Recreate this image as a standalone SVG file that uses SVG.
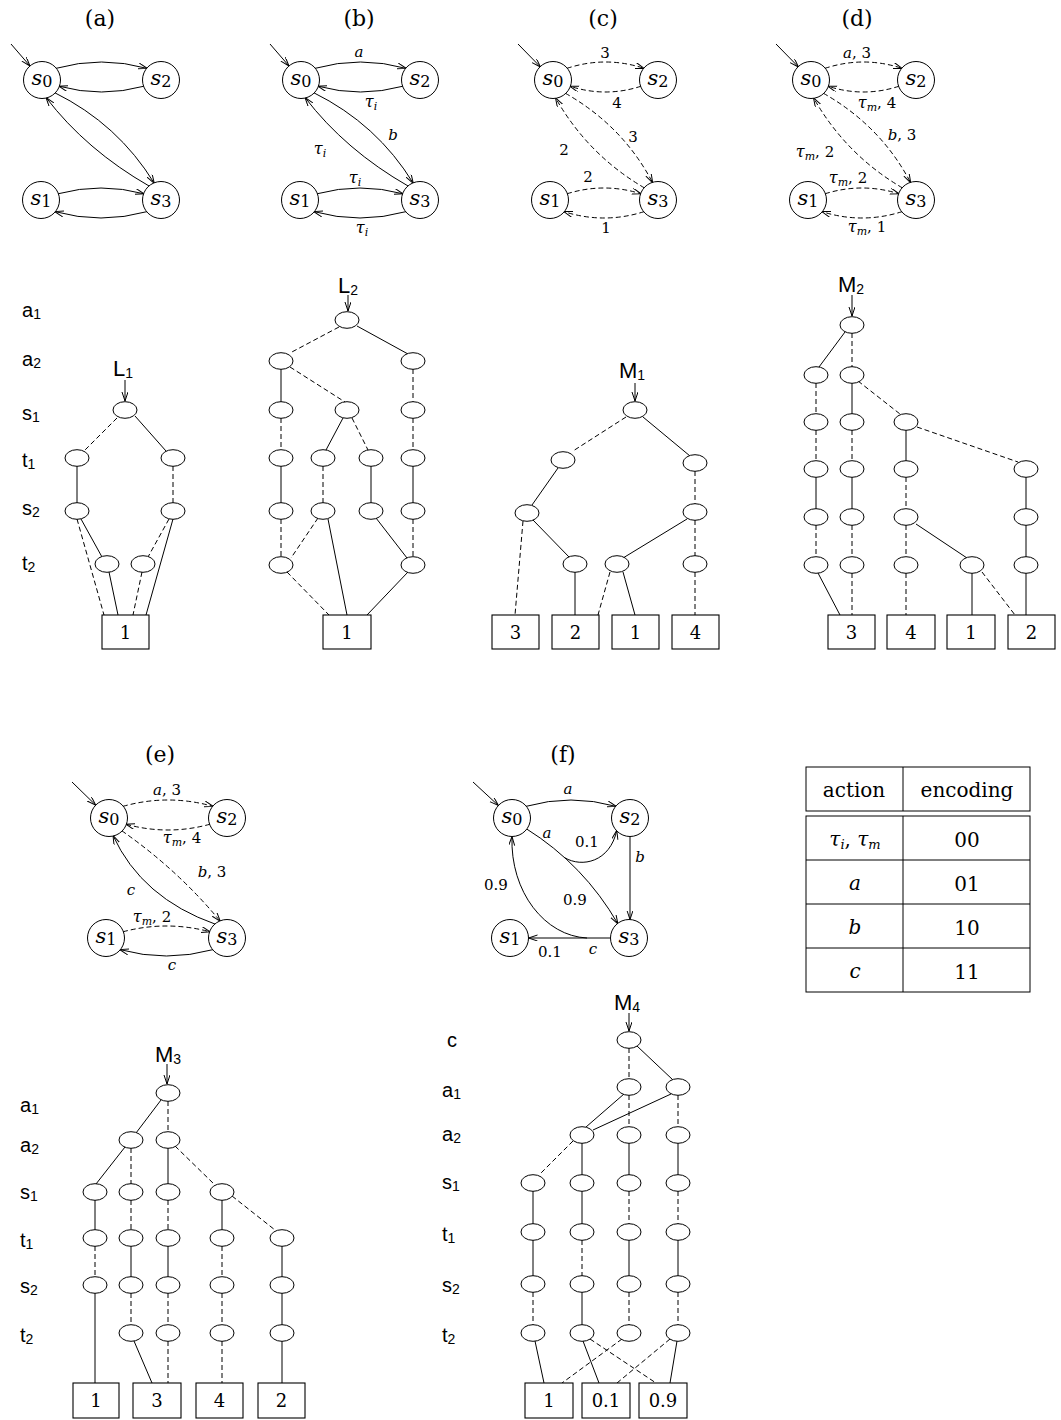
<svg xmlns="http://www.w3.org/2000/svg" width="1061" height="1420" viewBox="0 0 1061 1420">
<defs>
<marker id="ah" markerWidth="11" markerHeight="8" refX="9" refY="3" orient="auto" markerUnits="userSpaceOnUse"><path d="M0,0 L9,3 L0,6" fill="none" stroke="#000" stroke-width="1" stroke-dasharray="none"/></marker>
<style>
.n ellipse{fill:#fff;stroke:#000;stroke-width:1}
.st circle{fill:#fff;stroke:#000;stroke-width:1}
.t rect{fill:#fff;stroke:#000;stroke-width:1.1}
.s{stroke:#000;stroke-width:1;fill:none}
.d{stroke:#000;stroke-width:1;fill:none;stroke-dasharray:5 3}
.ar{marker-end:url(#ah)}
.ti{font-family:"DejaVu Serif",serif;font-size:22px;text-anchor:middle}
.sl{font-family:"DejaVu Serif",serif;font-style:italic;font-size:21px;text-anchor:middle}
.sl .sb{font-style:normal;font-size:16px}
.el{font-family:"DejaVu Serif",serif;font-size:15px;text-anchor:middle}
.mi{font-style:italic}
.sb{font-size:11px}
.vl{font-family:"Liberation Sans",Arial,sans-serif;font-size:20px}
.vl .sb,.rl .sb{font-size:14px}
.rl{font-family:"Liberation Sans",Arial,sans-serif;font-size:22px;text-anchor:middle}
.tn{font-family:"DejaVu Serif",serif;font-size:18px;text-anchor:middle}
.tb{font-family:"DejaVu Serif",serif;font-size:20px;text-anchor:middle}
.tb .sb{font-size:13px}
.tbl{fill:none;stroke:#000;stroke-width:1}
</style>
</defs>
<rect width="1061" height="1420" fill="#fff"/>

<g id="titles">
<text class="ti" x="100" y="26">(a)</text>
<text class="ti" x="359" y="26">(b)</text>
<text class="ti" x="603" y="26">(c)</text>
<text class="ti" x="857" y="26">(d)</text>
<text class="ti" x="160" y="762">(e)</text>
<text class="ti" x="563" y="762">(f)</text>
</g>

<g id="connectors">
<g id="edges-a">
<path class="s ar" d="M11,44 L30,66"/>
<path class="s ar" d="M55.8,68.4 Q101.5,55.6 147.2,68.4"/>
<path class="s ar" d="M144.1,86.2 Q101.5,97.8 58.9,86.2"/>
<path class="s ar" d="M57.9,193.8 Q101,182.2 144.1,193.8"/>
<path class="s ar" d="M147.2,211.6 Q101,224.4 54.8,211.6"/>
<path class="s ar" d="M54.7,92.7 Q118,124 154.3,183.3"/>
<path class="s ar" d="M149.4,186.2 Q86.3,150.1 46,97.5"/>
</g>
<g id="edges-b" transform="translate(259,0)">
<path class="s ar" d="M11,44 L30,66"/>
<path class="s ar" d="M55.8,68.4 Q101.5,55.6 147.2,68.4"/>
<path class="s ar" d="M144.1,86.2 Q101.5,97.8 58.9,86.2"/>
<path class="s ar" d="M57.9,193.8 Q101,182.2 144.1,193.8"/>
<path class="s ar" d="M147.2,211.6 Q101,224.4 54.8,211.6"/>
<path class="s ar" d="M54.7,92.7 Q118,124 154.3,183.3"/>
<path class="s ar" d="M149.4,186.2 Q86.3,150.1 46,97.5"/>
</g>
<g id="edges-c">
<path class="s ar" d="M518,44 L540.5,67"/>
<path class="d ar" d="M566.8,68.4 Q605.5,55.6 644.2,68.4"/>
<path class="d ar" d="M641.1,86.2 Q605.5,97.8 569.9,86.2"/>
<path class="d ar" d="M566.9,193.8 Q604,182.2 641.1,193.8"/>
<path class="d ar" d="M644.2,211.6 Q604,224.4 563.8,211.6"/>
<path class="d ar" d="M565.3,93.2 Q623,126 652.7,182.8"/>
<path class="d ar" d="M644.6,188 Q588,155 555.5,97.8"/>
</g>
<g id="edges-d" transform="translate(258,0)">
<path class="s ar" d="M518,44 L540.5,67"/>
<path class="d ar" d="M566.8,68.4 Q605.5,55.6 644.2,68.4"/>
<path class="d ar" d="M641.1,86.2 Q605.5,97.8 569.9,86.2"/>
<path class="d ar" d="M566.9,193.8 Q604,182.2 641.1,193.8"/>
<path class="d ar" d="M644.2,211.6 Q604,224.4 563.8,211.6"/>
<path class="d ar" d="M565.3,93.2 Q623,126 652.7,182.8"/>
<path class="d ar" d="M644.6,188 Q588,155 555.5,97.8"/>
</g>
<g id="edges-e">
<path class="s ar" d="M72,782 L95.7,805.1"/>
<path class="d ar" d="M122.8,806.4 Q168,793.6 213.2,806.4"/>
<path class="d ar" d="M210.1,824.2 Q168,835.8 125.9,824.2"/>
<path class="d ar" d="M122.9,931.8 Q166.5,920.2 210.1,931.8"/>
<path class="s ar" d="M213.2,949.6 Q166.5,962.4 119.8,949.6"/>
<path class="d ar" d="M121.7,830.7 Q178,870 220.3,921.3"/>
<path class="s ar" d="M215.4,924.2 Q141.8,898.2 113,835.5"/>
</g>
<g id="edges-f">
<path class="s ar" d="M473,782 L498.4,805.5"/>
<path class="s ar" d="M525.8,806.4 Q571,793.6 616.2,806.4"/>
<path class="s ar" d="M526.4,828.8 Q583.7,864.7 617.9,923.8"/>
<path class="s ar" d="M564.7,857.7 C582,868 610,862 616.8,830.3"/>
<path class="s ar" d="M630,836.5 L630,919.5"/>
<path class="s ar" d="M610.5,938 L528.5,938"/>
<path class="s ar" d="M587,938 C545,936 510,892 512,836.5"/>
</g>

<g id="edges-L1">
<path class="s ar" d="M125,380 L125,401"/>
<path class="d" d="M117,418 L85,450"/>
<path class="s" d="M135,416 L166,451"/>
<path class="s" d="M77,466 L77,503"/>
<path class="d" d="M173,466 L173,503"/>
<path class="d" d="M77,519 L104,615"/>
<path class="s" d="M81,519 L102,557"/>
<path class="s" d="M109,572 L118,615"/>
<path class="d" d="M142,572 L133,615"/>
<path class="d" d="M169,519 L148,557"/>
<path class="s" d="M173,519 L146,615"/>
</g>
<g id="edges-L2">
<path class="s ar" d="M348,295 L348,311"/>
<path class="d" d="M339,327 L290,353"/>
<path class="s" d="M357,326 L408,354"/>
<path class="s" d="M281,369 L281,402"/>
<path class="d" d="M290,367 L345,402"/>
<path class="d" d="M413,369 L413,402"/>
<path class="d" d="M281,418 L281,450"/>
<path class="s" d="M343,418 L326,450"/>
<path class="d" d="M352,418 L368,450"/>
<path class="d" d="M413,418 L413,450"/>
<path class="s" d="M281,466 L281,503"/>
<path class="d" d="M323,466 L323,503"/>
<path class="s" d="M371,466 L371,503"/>
<path class="s" d="M413,466 L413,503"/>
<path class="d" d="M281,519 L281,557"/>
<path class="d" d="M318,518 L291,558"/>
<path class="s" d="M328,519 L347,615"/>
<path class="s" d="M376,518 L407,558"/>
<path class="d" d="M413,519 L413,557"/>
<path class="d" d="M287,572 L329,615"/>
<path class="s" d="M408,572 L367,615"/>
</g>
<g id="edges-M1">
<path class="s ar" d="M635,383 L635,401"/>
<path class="d" d="M626,417 L573,451"/>
<path class="s" d="M643,417 L690,456"/>
<path class="s" d="M558,468 L532,505"/>
<path class="d" d="M695,471 L695,504"/>
<path class="d" d="M523,521 L515,615"/>
<path class="s" d="M533,520 L570,558"/>
<path class="s" d="M687,519 L623,558"/>
<path class="d" d="M695,520 L695,556"/>
<path class="s" d="M575,572 L575,615"/>
<path class="d" d="M610,572 L598,615"/>
<path class="s" d="M623,572 L635,615"/>
<path class="d" d="M695,572 L695,615"/>
</g>
<g id="edges-M2">
<path class="s ar" d="M852,295 L852,316"/>
<path class="s" d="M845,332 L819,367"/>
<path class="d" d="M852,333 L852,367"/>
<path class="d" d="M816,383 L816,414"/>
<path class="s" d="M852,383 L852,414"/>
<path class="d" d="M858,381 L900,414"/>
<path class="d" d="M816,430 L816,461"/>
<path class="d" d="M852,430 L852,461"/>
<path class="s" d="M906,430 L906,461"/>
<path class="d" d="M917,427 L1018,462"/>
<path class="s" d="M816,477 L816,509"/>
<path class="s" d="M852,477 L852,509"/>
<path class="d" d="M906,477 L906,509"/>
<path class="s" d="M1026,477 L1026,509"/>
<path class="d" d="M816,525 L816,557"/>
<path class="d" d="M852,525 L852,557"/>
<path class="d" d="M906,525 L906,557"/>
<path class="s" d="M916,524 L967,558"/>
<path class="s" d="M1026,525 L1026,557"/>
<path class="s" d="M818,573 L840,615"/>
<path class="d" d="M852,573 L852,615"/>
<path class="d" d="M906,573 L906,615"/>
<path class="s" d="M972,573 L972,615"/>
<path class="d" d="M982,572 L1015,615"/>
<path class="s" d="M1026,573 L1026,615"/>
</g>
<g id="edges-M3">
<path class="s ar" d="M167,1064 L167,1084"/>
<path class="s" d="M161,1100 L136,1133"/>
<path class="d" d="M168,1101 L168,1132"/>
<path class="s" d="M125,1147 L96,1184"/>
<path class="d" d="M131,1148 L131,1184"/>
<path class="s" d="M168,1148 L168,1184"/>
<path class="d" d="M175,1146 L215,1185"/>
<path class="s" d="M95,1200 L95,1230"/>
<path class="d" d="M131,1200 L131,1230"/>
<path class="d" d="M168,1200 L168,1230"/>
<path class="s" d="M222,1200 L222,1230"/>
<path class="d" d="M232,1196 L275,1230"/>
<path class="d" d="M95,1246 L95,1277"/>
<path class="s" d="M131,1246 L131,1277"/>
<path class="s" d="M168,1246 L168,1277"/>
<path class="d" d="M222,1246 L222,1277"/>
<path class="s" d="M282,1246 L282,1277"/>
<path class="s" d="M95,1293 L95,1383"/>
<path class="d" d="M131,1293 L131,1325"/>
<path class="d" d="M168,1293 L168,1325"/>
<path class="d" d="M222,1293 L222,1325"/>
<path class="s" d="M282,1293 L282,1325"/>
<path class="s" d="M134,1341 L152,1383"/>
<path class="d" d="M168,1341 L168,1383"/>
<path class="d" d="M222,1341 L222,1383"/>
<path class="s" d="M282,1341 L282,1383"/>
</g>
<g id="edges-M4">
<path class="s ar" d="M629,1013 L629,1031"/>
<path class="d" d="M629,1048 L629,1079"/>
<path class="s" d="M637,1046 L673,1080"/>
<path class="s" d="M624,1094 L586,1127"/>
<path class="s" d="M671,1094 L593,1130"/>
<path class="d" d="M629,1095 L629,1127"/>
<path class="d" d="M678,1095 L678,1127"/>
<path class="d" d="M573,1141 L540,1174"/>
<path class="s" d="M582,1143 L582,1175"/>
<path class="s" d="M629,1143 L629,1175"/>
<path class="s" d="M678,1143 L678,1175"/>
<path class="s" d="M533,1191 L533,1224"/>
<path class="s" d="M582,1191 L582,1224"/>
<path class="d" d="M629,1191 L629,1224"/>
<path class="d" d="M678,1191 L678,1224"/>
<path class="s" d="M533,1240 L533,1276"/>
<path class="d" d="M582,1240 L582,1276"/>
<path class="s" d="M629,1240 L629,1276"/>
<path class="s" d="M678,1240 L678,1276"/>
<path class="d" d="M533,1292 L533,1325"/>
<path class="s" d="M582,1292 L582,1325"/>
<path class="d" d="M629,1292 L629,1325"/>
<path class="d" d="M678,1292 L678,1325"/>
<path class="s" d="M535,1341 L544,1383"/>
<path class="s" d="M583,1341 L599,1383"/>
<path class="d" d="M590,1339 L656,1383"/>
<path class="d" d="M622,1339 L562,1383"/>
<path class="d" d="M670,1339 L617,1383"/>
<path class="s" d="M677,1341 L670,1383"/>
</g>
</g>

<g id="states" class="st">
<g id="a-s0"><circle cx="42" cy="80" r="18.5"/><text class="sl" x="42" y="85">s<tspan class="sb" dy="2">0</tspan></text></g>
<g id="a-s2"><circle cx="161" cy="80" r="18.5"/><text class="sl" x="161" y="85">s<tspan class="sb" dy="2">2</tspan></text></g>
<g id="a-s1"><circle cx="41" cy="200" r="18.5"/><text class="sl" x="41" y="205">s<tspan class="sb" dy="2">1</tspan></text></g>
<g id="a-s3"><circle cx="161" cy="200" r="18.5"/><text class="sl" x="161" y="205">s<tspan class="sb" dy="2">3</tspan></text></g>

<g id="b-s0"><circle cx="301" cy="80" r="18.5"/><text class="sl" x="301" y="85">s<tspan class="sb" dy="2">0</tspan></text></g>
<g id="b-s2"><circle cx="420" cy="80" r="18.5"/><text class="sl" x="420" y="85">s<tspan class="sb" dy="2">2</tspan></text></g>
<g id="b-s1"><circle cx="300" cy="200" r="18.5"/><text class="sl" x="300" y="205">s<tspan class="sb" dy="2">1</tspan></text></g>
<g id="b-s3"><circle cx="420" cy="200" r="18.5"/><text class="sl" x="420" y="205">s<tspan class="sb" dy="2">3</tspan></text></g>

<g id="c-s0"><circle cx="553" cy="80" r="18.5"/><text class="sl" x="553" y="85">s<tspan class="sb" dy="2">0</tspan></text></g>
<g id="c-s2"><circle cx="658" cy="80" r="18.5"/><text class="sl" x="658" y="85">s<tspan class="sb" dy="2">2</tspan></text></g>
<g id="c-s1"><circle cx="550" cy="200" r="18.5"/><text class="sl" x="550" y="205">s<tspan class="sb" dy="2">1</tspan></text></g>
<g id="c-s3"><circle cx="658" cy="200" r="18.5"/><text class="sl" x="658" y="205">s<tspan class="sb" dy="2">3</tspan></text></g>

<g id="d-s0"><circle cx="811" cy="80" r="18.5"/><text class="sl" x="811" y="85">s<tspan class="sb" dy="2">0</tspan></text></g>
<g id="d-s2"><circle cx="916" cy="80" r="18.5"/><text class="sl" x="916" y="85">s<tspan class="sb" dy="2">2</tspan></text></g>
<g id="d-s1"><circle cx="808" cy="200" r="18.5"/><text class="sl" x="808" y="205">s<tspan class="sb" dy="2">1</tspan></text></g>
<g id="d-s3"><circle cx="916" cy="200" r="18.5"/><text class="sl" x="916" y="205">s<tspan class="sb" dy="2">3</tspan></text></g>

<g id="e-s0"><circle cx="109" cy="818" r="18.5"/><text class="sl" x="109" y="823">s<tspan class="sb" dy="2">0</tspan></text></g>
<g id="e-s2"><circle cx="227" cy="818" r="18.5"/><text class="sl" x="227" y="823">s<tspan class="sb" dy="2">2</tspan></text></g>
<g id="e-s1"><circle cx="106" cy="938" r="18.5"/><text class="sl" x="106" y="943">s<tspan class="sb" dy="2">1</tspan></text></g>
<g id="e-s3"><circle cx="227" cy="938" r="18.5"/><text class="sl" x="227" y="943">s<tspan class="sb" dy="2">3</tspan></text></g>

<g id="f-s0"><circle cx="512" cy="818" r="18.5"/><text class="sl" x="512" y="823">s<tspan class="sb" dy="2">0</tspan></text></g>
<g id="f-s2"><circle cx="630" cy="818" r="18.5"/><text class="sl" x="630" y="823">s<tspan class="sb" dy="2">2</tspan></text></g>
<g id="f-s1"><circle cx="510" cy="938" r="18.5"/><text class="sl" x="510" y="943">s<tspan class="sb" dy="2">1</tspan></text></g>
<g id="f-s3"><circle cx="629" cy="938" r="18.5"/><text class="sl" x="629" y="943">s<tspan class="sb" dy="2">3</tspan></text></g>
</g>

<g id="edge-labels">
<text class="el mi" x="359" y="57">a</text>
<text class="el" x="371" y="107"><tspan class="mi" font-size="16">τ</tspan><tspan class="mi sb" dy="3">i</tspan></text>
<text class="el mi" x="393" y="140">b</text>
<text class="el" x="320" y="154"><tspan class="mi" font-size="16">τ</tspan><tspan class="mi sb" dy="3">i</tspan></text>
<text class="el" x="355" y="183"><tspan class="mi" font-size="16">τ</tspan><tspan class="mi sb" dy="3">i</tspan></text>
<text class="el" x="362" y="233"><tspan class="mi" font-size="16">τ</tspan><tspan class="mi sb" dy="3">i</tspan></text>

<text class="el" x="605" y="58">3</text>
<text class="el" x="617" y="108">4</text>
<text class="el" x="633" y="142">3</text>
<text class="el" x="564" y="155">2</text>
<text class="el" x="588" y="182">2</text>
<text class="el" x="606" y="233">1</text>

<text class="el" x="857" y="58"><tspan class="mi">a</tspan>, 3</text>
<text class="el" x="877" y="108"><tspan class="mi" font-size="16">τ</tspan><tspan class="mi sb" dy="3">m</tspan><tspan dy="-3">, 4</tspan></text>
<text class="el" x="902" y="140"><tspan class="mi">b</tspan>, 3</text>
<text class="el" x="815" y="157"><tspan class="mi" font-size="16">τ</tspan><tspan class="mi sb" dy="3">m</tspan><tspan dy="-3">, 2</tspan></text>
<text class="el" x="848" y="183"><tspan class="mi" font-size="16">τ</tspan><tspan class="mi sb" dy="3">m</tspan><tspan dy="-3">, 2</tspan></text>
<text class="el" x="867" y="232"><tspan class="mi" font-size="16">τ</tspan><tspan class="mi sb" dy="3">m</tspan><tspan dy="-3">, 1</tspan></text>

<text class="el" x="167" y="795"><tspan class="mi">a</tspan>, 3</text>
<text class="el" x="182" y="843"><tspan class="mi" font-size="16">τ</tspan><tspan class="mi sb" dy="3">m</tspan><tspan dy="-3">, 4</tspan></text>
<text class="el" x="212" y="877"><tspan class="mi">b</tspan>, 3</text>
<text class="el mi" x="131" y="895">c</text>
<text class="el" x="152" y="922"><tspan class="mi" font-size="16">τ</tspan><tspan class="mi sb" dy="3">m</tspan><tspan dy="-3">, 2</tspan></text>
<text class="el mi" x="172" y="970">c</text>

<text class="el mi" x="568" y="794">a</text>
<text class="el mi" x="547" y="838">a</text>
<text class="el" x="587" y="847">0.1</text>
<text class="el mi" x="640" y="862">b</text>
<text class="el" x="575" y="905">0.9</text>
<text class="el" x="496" y="890">0.9</text>
<text class="el" x="550" y="957">0.1</text>
<text class="el mi" x="593" y="954">c</text>
</g>

<g id="var-labels" class="vl">
<text x="22" y="317">a<tspan class="sb" dy="2">1</tspan></text>
<text x="22" y="366">a<tspan class="sb" dy="2">2</tspan></text>
<text x="22" y="420">s<tspan class="sb" dy="2">1</tspan></text>
<text x="22" y="467">t<tspan class="sb" dy="2">1</tspan></text>
<text x="22" y="515">s<tspan class="sb" dy="2">2</tspan></text>
<text x="22" y="570">t<tspan class="sb" dy="2">2</tspan></text>

<text x="20" y="1112">a<tspan class="sb" dy="2">1</tspan></text>
<text x="20" y="1152">a<tspan class="sb" dy="2">2</tspan></text>
<text x="20" y="1199">s<tspan class="sb" dy="2">1</tspan></text>
<text x="20" y="1247">t<tspan class="sb" dy="2">1</tspan></text>
<text x="20" y="1293">s<tspan class="sb" dy="2">2</tspan></text>
<text x="20" y="1342">t<tspan class="sb" dy="2">2</tspan></text>

<text x="447" y="1047">c</text>
<text x="442" y="1097">a<tspan class="sb" dy="2">1</tspan></text>
<text x="442" y="1141">a<tspan class="sb" dy="2">2</tspan></text>
<text x="442" y="1189">s<tspan class="sb" dy="2">1</tspan></text>
<text x="442" y="1241">t<tspan class="sb" dy="2">1</tspan></text>
<text x="442" y="1292">s<tspan class="sb" dy="2">2</tspan></text>
<text x="442" y="1342">t<tspan class="sb" dy="2">2</tspan></text>
</g>

<g id="root-labels" class="rl">
<text x="123" y="376">L<tspan class="sb" dy="2">1</tspan></text>
<text x="348" y="293">L<tspan class="sb" dy="2">2</tspan></text>
<text x="632" y="378">M<tspan class="sb" dy="2">1</tspan></text>
<text x="851" y="292">M<tspan class="sb" dy="2">2</tspan></text>
<text x="168" y="1062">M<tspan class="sb" dy="2">3</tspan></text>
<text x="627" y="1010">M<tspan class="sb" dy="2">4</tspan></text>
</g>

<g id="bdd-L1" class="n">
<g id="L1-n1"><ellipse cx="125" cy="410" rx="12" ry="8.3"/></g>
<g id="L1-n2"><ellipse cx="77" cy="458" rx="12" ry="8.3"/></g>
<g id="L1-n3"><ellipse cx="173" cy="458" rx="12" ry="8.3"/></g>
<g id="L1-n4"><ellipse cx="77" cy="511" rx="12" ry="8.3"/></g>
<g id="L1-n5"><ellipse cx="173" cy="511" rx="12" ry="8.3"/></g>
<g id="L1-n6"><ellipse cx="107" cy="564" rx="12" ry="8.3"/></g>
<g id="L1-n7"><ellipse cx="143" cy="564" rx="12" ry="8.3"/></g>
</g>
<g id="bdd-L2" class="n">
<g id="L2-n1"><ellipse cx="347" cy="320" rx="12" ry="8.3"/></g>
<g id="L2-n2"><ellipse cx="281" cy="361" rx="12" ry="8.3"/></g>
<g id="L2-n3"><ellipse cx="413" cy="361" rx="12" ry="8.3"/></g>
<g id="L2-n4"><ellipse cx="281" cy="410" rx="12" ry="8.3"/></g>
<g id="L2-n5"><ellipse cx="347" cy="410" rx="12" ry="8.3"/></g>
<g id="L2-n6"><ellipse cx="413" cy="410" rx="12" ry="8.3"/></g>
<g id="L2-n7"><ellipse cx="281" cy="458" rx="12" ry="8.3"/></g>
<g id="L2-n8"><ellipse cx="323" cy="458" rx="12" ry="8.3"/></g>
<g id="L2-n9"><ellipse cx="371" cy="458" rx="12" ry="8.3"/></g>
<g id="L2-n10"><ellipse cx="413" cy="458" rx="12" ry="8.3"/></g>
<g id="L2-n11"><ellipse cx="281" cy="511" rx="12" ry="8.3"/></g>
<g id="L2-n12"><ellipse cx="323" cy="511" rx="12" ry="8.3"/></g>
<g id="L2-n13"><ellipse cx="371" cy="511" rx="12" ry="8.3"/></g>
<g id="L2-n14"><ellipse cx="413" cy="511" rx="12" ry="8.3"/></g>
<g id="L2-n15"><ellipse cx="281" cy="565" rx="12" ry="8.3"/></g>
<g id="L2-n16"><ellipse cx="413" cy="565" rx="12" ry="8.3"/></g>
</g>
<g id="bdd-M1" class="n">
<g id="M1-n1"><ellipse cx="635" cy="410" rx="12" ry="8.3"/></g>
<g id="M1-n2"><ellipse cx="563" cy="460" rx="12" ry="8.3"/></g>
<g id="M1-n3"><ellipse cx="695" cy="463" rx="12" ry="8.3"/></g>
<g id="M1-n4"><ellipse cx="527" cy="513" rx="12" ry="8.3"/></g>
<g id="M1-n5"><ellipse cx="695" cy="512" rx="12" ry="8.3"/></g>
<g id="M1-n6"><ellipse cx="575" cy="564" rx="12" ry="8.3"/></g>
<g id="M1-n7"><ellipse cx="617" cy="564" rx="12" ry="8.3"/></g>
<g id="M1-n8"><ellipse cx="695" cy="564" rx="12" ry="8.3"/></g>
</g>
<g id="bdd-M2" class="n">
<g id="M2-n1"><ellipse cx="852" cy="325" rx="12" ry="8.3"/></g>
<g id="M2-n2"><ellipse cx="816" cy="375" rx="12" ry="8.3"/></g>
<g id="M2-n3"><ellipse cx="852" cy="375" rx="12" ry="8.3"/></g>
<g id="M2-n4"><ellipse cx="816" cy="422" rx="12" ry="8.3"/></g>
<g id="M2-n5"><ellipse cx="852" cy="422" rx="12" ry="8.3"/></g>
<g id="M2-n6"><ellipse cx="906" cy="422" rx="12" ry="8.3"/></g>
<g id="M2-n7"><ellipse cx="816" cy="469" rx="12" ry="8.3"/></g>
<g id="M2-n8"><ellipse cx="852" cy="469" rx="12" ry="8.3"/></g>
<g id="M2-n9"><ellipse cx="906" cy="469" rx="12" ry="8.3"/></g>
<g id="M2-n10"><ellipse cx="1026" cy="469" rx="12" ry="8.3"/></g>
<g id="M2-n11"><ellipse cx="816" cy="517" rx="12" ry="8.3"/></g>
<g id="M2-n12"><ellipse cx="852" cy="517" rx="12" ry="8.3"/></g>
<g id="M2-n13"><ellipse cx="906" cy="517" rx="12" ry="8.3"/></g>
<g id="M2-n14"><ellipse cx="1026" cy="517" rx="12" ry="8.3"/></g>
<g id="M2-n15"><ellipse cx="816" cy="565" rx="12" ry="8.3"/></g>
<g id="M2-n16"><ellipse cx="852" cy="565" rx="12" ry="8.3"/></g>
<g id="M2-n17"><ellipse cx="906" cy="565" rx="12" ry="8.3"/></g>
<g id="M2-n18"><ellipse cx="972" cy="565" rx="12" ry="8.3"/></g>
<g id="M2-n19"><ellipse cx="1026" cy="565" rx="12" ry="8.3"/></g>
</g>
<g id="bdd-M3" class="n">
<g id="M3-n1"><ellipse cx="168" cy="1093" rx="12" ry="8.3"/></g>
<g id="M3-n2"><ellipse cx="131" cy="1140" rx="12" ry="8.3"/></g>
<g id="M3-n3"><ellipse cx="168" cy="1140" rx="12" ry="8.3"/></g>
<g id="M3-n4"><ellipse cx="95" cy="1192" rx="12" ry="8.3"/></g>
<g id="M3-n5"><ellipse cx="131" cy="1192" rx="12" ry="8.3"/></g>
<g id="M3-n6"><ellipse cx="168" cy="1192" rx="12" ry="8.3"/></g>
<g id="M3-n7"><ellipse cx="222" cy="1192" rx="12" ry="8.3"/></g>
<g id="M3-n8"><ellipse cx="95" cy="1238" rx="12" ry="8.3"/></g>
<g id="M3-n9"><ellipse cx="131" cy="1238" rx="12" ry="8.3"/></g>
<g id="M3-n10"><ellipse cx="168" cy="1238" rx="12" ry="8.3"/></g>
<g id="M3-n11"><ellipse cx="222" cy="1238" rx="12" ry="8.3"/></g>
<g id="M3-n12"><ellipse cx="282" cy="1238" rx="12" ry="8.3"/></g>
<g id="M3-n13"><ellipse cx="95" cy="1285" rx="12" ry="8.3"/></g>
<g id="M3-n14"><ellipse cx="131" cy="1285" rx="12" ry="8.3"/></g>
<g id="M3-n15"><ellipse cx="168" cy="1285" rx="12" ry="8.3"/></g>
<g id="M3-n16"><ellipse cx="222" cy="1285" rx="12" ry="8.3"/></g>
<g id="M3-n17"><ellipse cx="282" cy="1285" rx="12" ry="8.3"/></g>
<g id="M3-n18"><ellipse cx="131" cy="1333" rx="12" ry="8.3"/></g>
<g id="M3-n19"><ellipse cx="168" cy="1333" rx="12" ry="8.3"/></g>
<g id="M3-n20"><ellipse cx="222" cy="1333" rx="12" ry="8.3"/></g>
<g id="M3-n21"><ellipse cx="282" cy="1333" rx="12" ry="8.3"/></g>
</g>
<g id="bdd-M4" class="n">
<g id="M4-n1"><ellipse cx="629" cy="1040" rx="12" ry="8.3"/></g>
<g id="M4-n2"><ellipse cx="629" cy="1087" rx="12" ry="8.3"/></g>
<g id="M4-n3"><ellipse cx="678" cy="1087" rx="12" ry="8.3"/></g>
<g id="M4-n4"><ellipse cx="582" cy="1135" rx="12" ry="8.3"/></g>
<g id="M4-n5"><ellipse cx="629" cy="1135" rx="12" ry="8.3"/></g>
<g id="M4-n6"><ellipse cx="678" cy="1135" rx="12" ry="8.3"/></g>
<g id="M4-n7"><ellipse cx="533" cy="1183" rx="12" ry="8.3"/></g>
<g id="M4-n8"><ellipse cx="582" cy="1183" rx="12" ry="8.3"/></g>
<g id="M4-n9"><ellipse cx="629" cy="1183" rx="12" ry="8.3"/></g>
<g id="M4-n10"><ellipse cx="678" cy="1183" rx="12" ry="8.3"/></g>
<g id="M4-n11"><ellipse cx="533" cy="1232" rx="12" ry="8.3"/></g>
<g id="M4-n12"><ellipse cx="582" cy="1232" rx="12" ry="8.3"/></g>
<g id="M4-n13"><ellipse cx="629" cy="1232" rx="12" ry="8.3"/></g>
<g id="M4-n14"><ellipse cx="678" cy="1232" rx="12" ry="8.3"/></g>
<g id="M4-n15"><ellipse cx="533" cy="1284" rx="12" ry="8.3"/></g>
<g id="M4-n16"><ellipse cx="582" cy="1284" rx="12" ry="8.3"/></g>
<g id="M4-n17"><ellipse cx="629" cy="1284" rx="12" ry="8.3"/></g>
<g id="M4-n18"><ellipse cx="678" cy="1284" rx="12" ry="8.3"/></g>
<g id="M4-n19"><ellipse cx="533" cy="1333" rx="12" ry="8.3"/></g>
<g id="M4-n20"><ellipse cx="582" cy="1333" rx="12" ry="8.3"/></g>
<g id="M4-n21"><ellipse cx="629" cy="1333" rx="12" ry="8.3"/></g>
<g id="M4-n22"><ellipse cx="678" cy="1333" rx="12" ry="8.3"/></g>
</g>

<g id="terminals" class="t">
<g id="L1-t1"><rect x="102" y="615" width="47" height="34"/><text class="tn" x="125.5" y="638.5">1</text></g>
<g id="L2-t1"><rect x="323" y="615" width="48" height="34"/><text class="tn" x="347" y="638.5">1</text></g>
<g id="M1-t3"><rect x="492" y="615" width="47" height="34"/><text class="tn" x="515.5" y="638.5">3</text></g>
<g id="M1-t2"><rect x="552" y="615" width="47" height="34"/><text class="tn" x="575.5" y="638.5">2</text></g>
<g id="M1-t1"><rect x="612" y="615" width="47" height="34"/><text class="tn" x="635.5" y="638.5">1</text></g>
<g id="M1-t4"><rect x="672" y="615" width="47" height="34"/><text class="tn" x="695.5" y="638.5">4</text></g>
<g id="M2-t3"><rect x="828" y="615" width="47" height="34"/><text class="tn" x="851.5" y="638.5">3</text></g>
<g id="M2-t4"><rect x="887" y="615" width="48" height="34"/><text class="tn" x="911" y="638.5">4</text></g>
<g id="M2-t1"><rect x="947" y="615" width="48" height="34"/><text class="tn" x="971" y="638.5">1</text></g>
<g id="M2-t2"><rect x="1008" y="615" width="47" height="34"/><text class="tn" x="1031.5" y="638.5">2</text></g>
<g id="M3-t1"><rect x="73" y="1383" width="46" height="35"/><text class="tn" x="96" y="1407">1</text></g>
<g id="M3-t3"><rect x="133" y="1383" width="48" height="35"/><text class="tn" x="157" y="1407">3</text></g>
<g id="M3-t4"><rect x="196" y="1383" width="47" height="35"/><text class="tn" x="219.5" y="1407">4</text></g>
<g id="M3-t2"><rect x="258" y="1383" width="47" height="35"/><text class="tn" x="281.5" y="1407">2</text></g>
<g id="M4-t1"><rect x="525" y="1383" width="48" height="35"/><text class="tn" x="549" y="1407">1</text></g>
<g id="M4-t01"><rect x="582" y="1383" width="48" height="35"/><text class="tn" x="606" y="1407">0.1</text></g>
<g id="M4-t09"><rect x="639" y="1383" width="48" height="35"/><text class="tn" x="663" y="1407">0.9</text></g>
</g>

<g id="table">
<rect class="tbl" x="806" y="767" width="224" height="44"/>
<rect class="tbl" x="806" y="816" width="224" height="176"/>
<path class="tbl" d="M903,767 L903,811 M903,816 L903,992 M806,860 L1030,860 M806,904 L1030,904 M806,948 L1030,948"/>
<text class="tb" x="854" y="797">action</text>
<text class="tb" x="967" y="797">encoding</text>
<text class="tb" x="855" y="846"><tspan class="mi">τ</tspan><tspan class="mi sb" dy="3">i</tspan><tspan dy="-3">, </tspan><tspan class="mi">τ</tspan><tspan class="mi sb" dy="3">m</tspan></text>
<text class="tb" x="967" y="847">00</text>
<text class="tb mi" x="855" y="890">a</text>
<text class="tb" x="967" y="891">01</text>
<text class="tb mi" x="855" y="934">b</text>
<text class="tb" x="967" y="935">10</text>
<text class="tb mi" x="855" y="978">c</text>
<text class="tb" x="967" y="979">11</text>
</g>
</svg>
